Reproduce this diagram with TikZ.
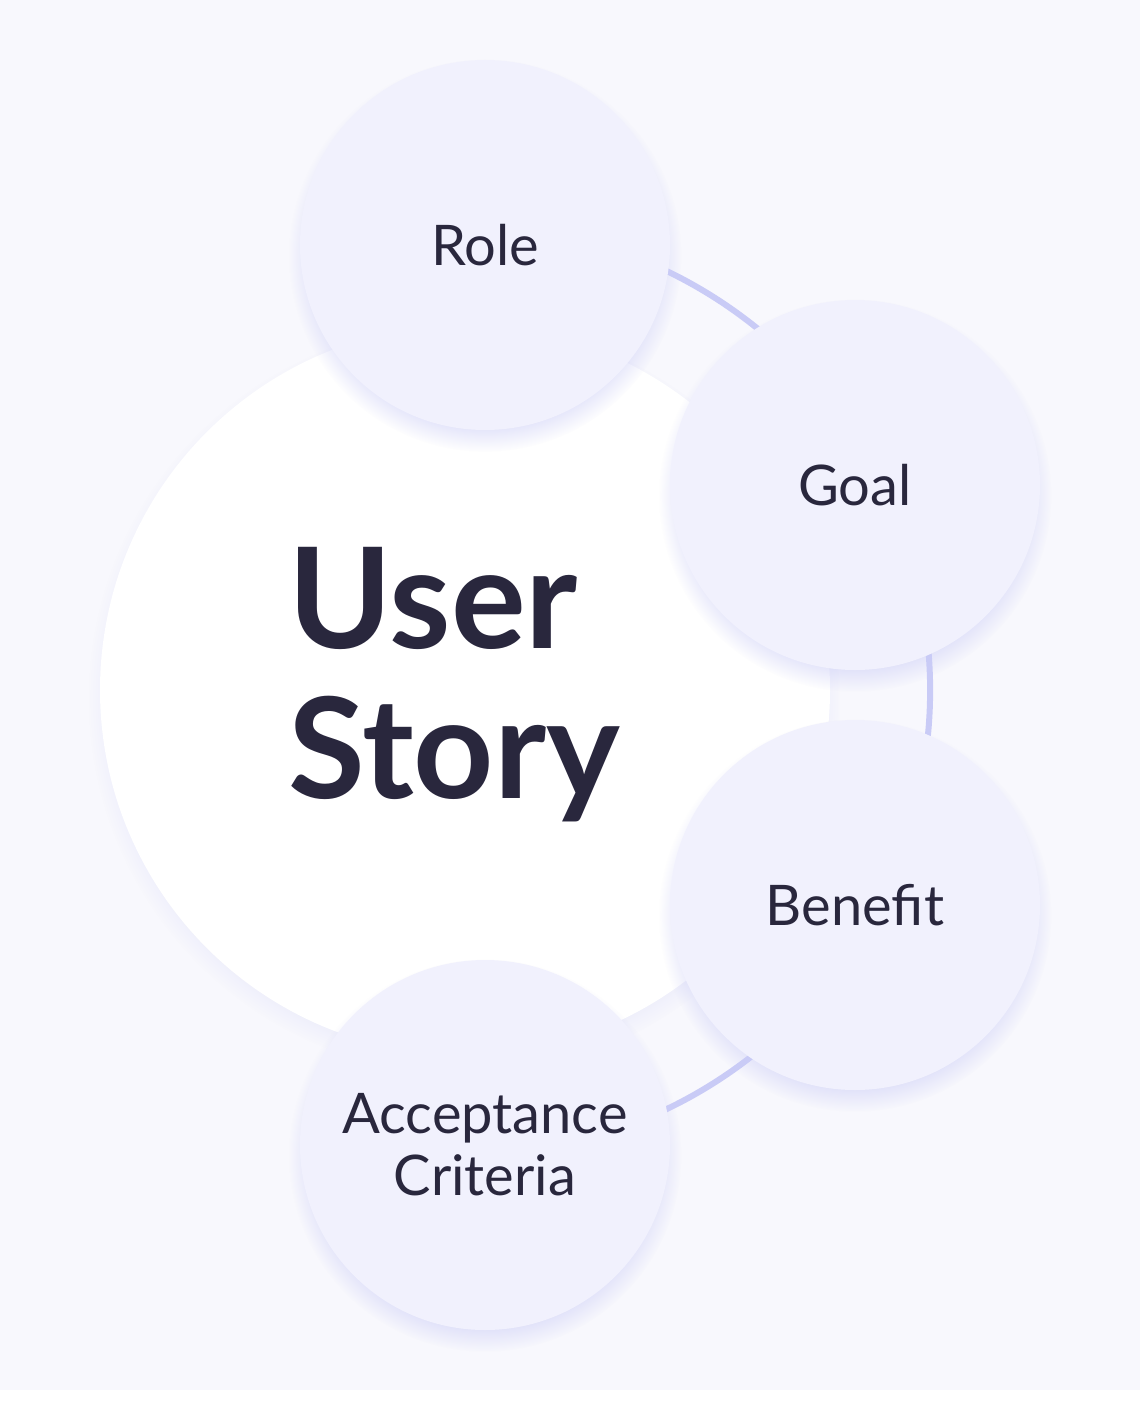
\documentclass[tikz,border=0pt]{standalone}
\usepackage{fontspec}
\setmainfont{Lato}
\usetikzlibrary{shadows}
\definecolor{bgcol}{HTML}{F8F8FD}
\definecolor{bubble}{HTML}{F1F1FD}
\definecolor{ringcol}{HTML}{C9CBF6}
\definecolor{ink}{HTML}{29273D}
\tikzset{
  bubble/.style={circle, fill=bubble, minimum size=370pt, inner sep=0pt,
    text=ink, font=\fontsize{56}{60}\selectfont, align=center,
    circular drop shadow={shadow xshift=0pt, shadow yshift=-10pt, fill=ringcol, opacity=0.6, shadow scale=1.06}},
  ring/.style={draw=ringcol, line width=6pt}
}
\begin{document}
\begin{tikzpicture}[x=1pt, y=-1pt]
  \useasboundingbox (0,0) rectangle (1140,1405);
  \fill[white] (0,0) rectangle (1140,1405);
  \fill[bgcol] (0,0) rectangle (1140,1390);
  % ring behind the bubbles
  \coordinate (hub) at (465,690);
  \draw[ring] ([shift={(-75:465pt)}]hub) arc[start angle=-75, end angle=75, radius=465pt];
  % main circle
  \node[circle, fill=white, minimum size=730pt, inner sep=0pt,
    circular drop shadow={shadow xshift=0pt, shadow yshift=-8pt, fill=ringcol, opacity=0.5, shadow scale=1.03}] (story) at (hub) {};
  \node[anchor=west, text=ink, font=\bfseries\fontsize{140}{150}\selectfont, align=left] (title) at (285,685) {User\\Story};
  % bubbles
  \node[bubble] (role) at (485,245) {Role};
  \node[bubble] (goal) at (855,485) {Goal};
  \node[bubble] (benefit) at (855,905) {Benefit};
  \node[bubble, font=\fontsize{56}{62}\selectfont] (criteria) at (485,1145) {Acceptance\\Criteria};
\end{tikzpicture}
\end{document}
